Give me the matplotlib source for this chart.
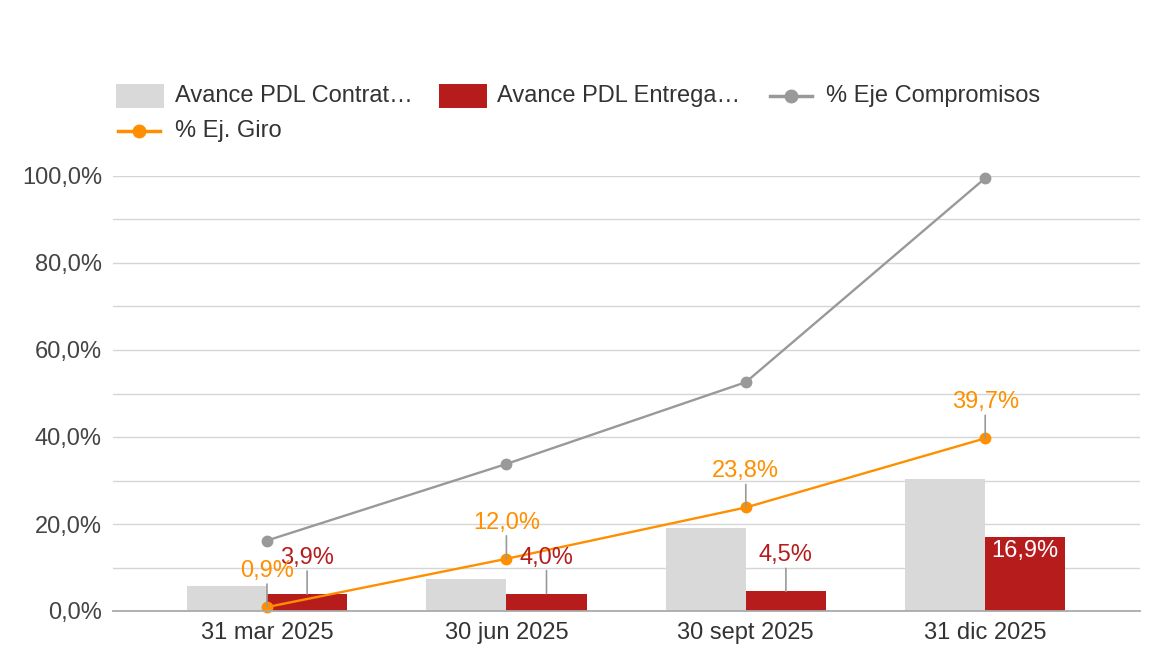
import matplotlib
matplotlib.use("Agg")
import matplotlib.pyplot as plt
import numpy as np
from matplotlib.patches import Rectangle
from matplotlib.lines import Line2D
from matplotlib.ticker import MultipleLocator, FuncFormatter

plt.rcParams['font.family'] = ['Liberation Sans', 'DejaVu Sans']

categories = ["31 mar 2025", "30 jun 2025", "30 sept 2025", "31 dic 2025"]
contratado = [5.7, 7.4, 19.1, 30.3]
entregado = [3.9, 4.0, 4.5, 16.9]
eje_compromisos = [16.2, 33.8, 52.6, 99.5]
ej_giro = [0.9, 12.0, 23.8, 39.7]
series_names = ["Avance PDL Contrat…", "Avance PDL Entrega…", "% Eje Compromisos", "% Ej. Giro"]

c_grey_bar = '#d9d9d9'
c_red = '#b71c1c'
c_grey_line = '#999999'
c_orange = '#ff8f00'
FS = 17

W, H = 1175, 659
fig = plt.figure(figsize=(W/100, H/100), dpi=100)
ax = fig.add_axes([113/W, 1-611/H, (1140-113)/W, (611-176)/H])

x = np.arange(len(categories))
w = 0.335
ax.bar(x - w/2, contratado, width=w, color=c_grey_bar, zorder=2)
ax.bar(x + w/2, entregado, width=w, color=c_red, zorder=2)
ax.plot(x, eje_compromisos, color=c_grey_line, lw=1.7, marker='o', ms=7.5, zorder=3, clip_on=False)
ax.plot(x, ej_giro, color=c_orange, lw=1.7, marker='o', ms=7.5, zorder=4, clip_on=False)

ax.set_xlim((113-267)/239.4, (1140-267)/239.4)
ax.set_ylim(0, 100)
ax.yaxis.set_major_locator(MultipleLocator(20))
ax.yaxis.set_minor_locator(MultipleLocator(10))
ax.yaxis.set_major_formatter(FuncFormatter(lambda v, p: f"{v:.1f}%".replace('.', ',')))
ax.grid(axis='y', which='both', color='#d6d6d6', lw=1, zorder=0)
ax.set_axisbelow(True)
for s in ['top', 'right', 'left']:
    ax.spines[s].set_visible(False)
ax.spines['bottom'].set_color('#aaaaaa')
ax.spines['bottom'].set_linewidth(1.3)
ax.spines['bottom'].set_zorder(5)
ax.tick_params(axis='y', which='both', length=0, labelsize=FS, labelcolor='#444444', pad=8)
ax.tick_params(axis='x', length=0, labelsize=FS, labelcolor='#333333', pad=8)
ax.set_xticks(x)
ax.set_xticklabels(categories)

def fmt(v):
    return f"{v:.1f}%".replace('.', ',')

def leader_label(xv, yv, text, color, z):
    ax.annotate('', xy=(xv, yv), xytext=(0, 23), textcoords='offset pixels',
                arrowprops=dict(arrowstyle='-', color='#999999', lw=1.2,
                                shrinkA=0, shrinkB=0), zorder=z)
    ax.annotate(text, xy=(xv, yv), xytext=(0, 36), textcoords='offset pixels',
                ha='center', va='center', fontsize=FS, color=color, zorder=z,
                annotation_clip=False)

for i, v in enumerate(entregado):
    if i < 3:
        leader_label(x[i] + w/2, v, fmt(v), c_red, 5)
    else:
        ax.annotate(fmt(v), xy=(x[i] + w/2, v), xytext=(0, -14), textcoords='offset pixels',
                    ha='center', va='center', fontsize=FS, color='white', zorder=6)
for i, v in enumerate(ej_giro):
    leader_label(x[i], v, fmt(v), c_orange, 6)

# Manual legend (row-major, like the reference)
def fx(px):
    return px / W

def fy(py):
    return 1 - py / H

legend_items = [
    ('rect', c_grey_bar, 116, 96, 175),
    ('rect', c_red, 439, 96, 497),
    ('line', c_grey_line, 770, 96, 826),
    ('line', c_orange, 118, 131, 175),
]
for (kind, col, hx, hy, tx), name in zip(legend_items, series_names):
    if kind == 'rect':
        fig.patches.append(Rectangle((fx(hx), fy(hy + 12)), 48/W, 24/H, facecolor=col,
                                     edgecolor='none', transform=fig.transFigure, figure=fig))
    else:
        fig.lines.append(Line2D([fx(hx), fx(hx + 42)], [fy(hy), fy(hy)], color=col, lw=2.5,
                                transform=fig.transFigure, figure=fig))
        fig.lines.append(Line2D([fx(hx + 21)], [fy(hy)], color=col, marker='o', ms=9,
                                transform=fig.transFigure, figure=fig))
    fig.text(fx(tx), fy(hy), name, ha='left', va='center', fontsize=FS, color='#333333')

fig.savefig('out.png', dpi=100, facecolor='white')
